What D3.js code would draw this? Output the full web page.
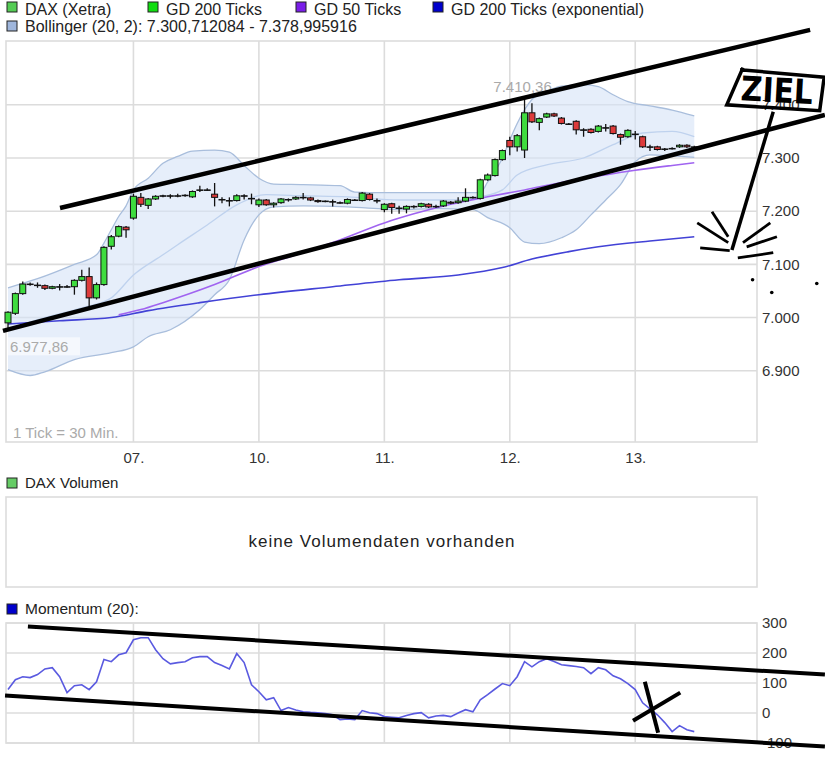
<!DOCTYPE html>
<html>
<head>
<meta charset="utf-8">
<script src="https://cdn.jsdelivr.net/npm/d3@7"></script>
<style>
  body { margin: 0; background: #fff; }
  svg { display: block; font-family: "Liberation Sans", Arial, sans-serif; }
</style>
</head>
<body>
<svg id="chart" width="825" height="762"></svg>
<script>
// ---- data (30 min ticks, 06.-13.) ----
const opens  = [6990,7008,7045,7063,7061,7060,7055,7058,7058,7058,7070,7077,7037,7062,7134,7153,7170,
                7187,7226,7211,7223,7229,7229,7229,7230,7227,7240,7240,7232,7222,7220,7220,7229,7224,
                7212,7221,7212,7216,7222,7223,7226,7225,7220,7218,7218,7216,7215,7221,7220,7232,7220,
                7203,7214,7206,7204,7209,7209,7213,7209,7210,7217,7216,7219,7226,7224,7259,7267,7297,
                7333,7321,7315,7385,7367,7377,7383,7375,7364,7369,7353,7354,7350,7357,7360,7344,7340,
                7345,7340,7321,7321,7317,7318,7321,7324,7321];
const highs  = [7012,7047,7068,7066,7066,7062,7060,7063,7061,7072,7090,7094,7066,7134,7155,7173,7172,
                7233,7234,7225,7230,7231,7232,7233,7232,7239,7248,7243,7253,7226,7226,7232,7232,7233,
                7224,7223,7217,7225,7224,7228,7234,7227,7222,7220,7222,7218,7224,7223,7236,7234,7224,
                7215,7216,7210,7211,7211,7216,7215,7212,7221,7219,7226,7243,7228,7261,7271,7299,7316,
                7340,7345,7410.36,7403,7376,7385,7385,7377,7366,7371,7356,7356,7362,7364,7362,7346,7354,
                7351,7342,7325,7323,7319,7320,7326,7326,7323];
const lows   = [6977.86,7005,7043,7060,7056,7052,7053,7051,7056,7043,7068,7021,7034,7060,7128,7151,7150,
                7184,7208,7204,7221,7226,7224,7226,7227,7225,7236,7238,7209,7215,7209,7218,7222,7213,
                7208,7210,7207,7214,7218,7221,7222,7219,7216,7217,7209,7214,7213,7219,7218,7220,7215,
                7198,7195,7195,7196,7205,7207,7206,7206,7208,7213,7214,7217,7224,7222,7257,7265,7295,
                7305,7312,7300,7366,7352,7375,7377,7363,7362,7344,7340,7346,7348,7350,7344,7325,7338,
                7335,7319,7313,7314,7313,7316,7319,7319,7320];
const closes = [7010,7045,7063,7062,7061,7055,7058,7058,7058,7070,7077,7037,7062,7132,7152,7171,7165,
                7228,7213,7223,7228,7229,7229,7229,7230,7237,7240,7240,7226,7222,7220,7229,7229,7224,
                7221,7212,7215,7223,7222,7226,7226,7221,7218,7219,7218,7216,7222,7221,7234,7222,7220,
                7213,7207,7206,7209,7209,7214,7208,7209,7219,7215,7219,7226,7226,7259,7268,7297,7314,
                7321,7342,7385,7368,7374,7383,7379,7365,7364,7353,7353,7348,7360,7357,7346,7339,7352,
                7345,7321,7321,7316,7317,7318,7324,7321,7321];

// indicator lines: [tick index, value]
const bollUpper = [[0,7056],[4,7073],[9,7100],[12,7118],[13,7140],[14,7165],[15,7190],[16,7210],[17,7240],
                   [19,7262],[21,7290],[23,7303],[25,7313],[28,7315],[30,7311],[32,7286],[34,7262],[36,7251],
                   [40,7250],[45,7248],[47,7236],[51,7235],[58,7235],[64,7235],[65,7255],[67,7300],[68,7334],
                   [69,7365],[71,7410],[73,7425],[75,7435],[78,7438],[80,7434],[82,7419],[84,7406],[87,7398],
                   [90,7390],[93,7379]];
const bollLower = [[0,6902],[3,6891],[5,6898],[9,6921],[14,6934],[17,6945],[19,6964],[22,6977],[26,7015],
                   [28,7043],[30,7071],[32,7146],[34,7193],[36,7208],[40,7210],[46,7208],[53,7203],[58,7205],
                   [63,7203],[65,7188],[68,7169],[70,7142],[72,7139],[75,7150],[77,7165],[79,7193],[81,7221],
                   [83,7250],[85,7293],[87,7306],[90,7304],[93,7301]];
const bollMid   = [[0,6979],[4,6996],[10,7018],[14,7037],[17,7080],[21,7118],[23,7137],[27,7174],[31,7212],
                   [35,7231],[40,7229],[46,7227],[53,7221],[60,7221],[64,7227],[67,7240],[69,7268],[73,7287],
                   [78,7300],[82,7325],[86,7347],[90,7350],[93,7340]];
const gd50      = [[15,7005],[18,7015],[21,7028],[28,7062],[34,7096],[40,7122],[44,7141],[51,7178],[55,7195],
                   [60,7213],[65,7227],[70,7240],[75,7254],[80,7266],[85,7277],[90,7286],[93,7291]];
const gd200exp  = [[0,6988],[7,6994],[14,7000],[19,7013],[26,7028],[34,7043],[44,7058],[53,7071],[61,7080],
                   [67,7094],[71,7110],[76,7124],[80,7133],[87,7144],[93,7152]];

const momentum = [78,111,121,118,128,147,151,121,68,91,94,78,104,178,171,194,201,
                  244,251,251,211,181,164,168,171,184,188,188,168,158,147,198,168,94,
                  71,44,51,8,18,10,4,2,1,-2,-6,-22,-20,-22,8,1,-2,
                  -12,-14,-16,-8,-2,1,-16,-10,-8,-12,0,11,4,44,61,80,98,
                  91,121,171,154,171,181,172,161,158,155,151,131,151,144,124,114,98,
                  78,34,14,-6,-32,-62,-42,-56,-62];

const dayTicks  = [17, 34, 51, 68, 85];
const dayLabels = ["07.", "10.", "11.", "12.", "13."];
const priceTicks = [6900, 7000, 7100, 7200, 7300, 7400];
const momTicks = [-100, 0, 100, 200, 300];

// hand drawn marks on the picture, in chart units
const trendUpper = [[7.05, 7206], [108.7, 7541]];
const trendLower = [[-0.68, 6975], [110.7, 7381]];
const zielBox = [[99.2, 7466], [110.6, 7452], [110.0, 7389], [97.4, 7400], [99.6, 7470]];
const zielStick = [[103.7, 7387], [98.1, 7127]];
const zielBurst = [
  [[93.4, 7178], [97.6, 7141]], [[95.4, 7199], [97.6, 7152]], [[93.8, 7131], [97.8, 7126]],
  [[99.6, 7141], [103.3, 7178]], [[100.1, 7133], [104.2, 7152]], [[98.9, 7112], [103.7, 7122]]
];
const zielDots = [[100.9, 7071], [103.5, 7047], [109.6, 7064]];
const momUpper = [[2.7, 288], [110.7, 128]];
const momLower = [[-0.4, 58], [110.7, -112]];
const momCross = [[[86.3, 104], [88.1, -66]], [[84.7, -26], [91.1, 68]]];

const legendTop = [
  { label: "DAX (Xetra)", color: "#55cc55", x: 7 },
  { label: "GD 200 Ticks", color: "#11dd11", x: 148 },
  { label: "GD 50 Ticks", color: "#7a1ee8", x: 296 },
  { label: "GD 200 Ticks (exponential)", color: "#0000cc", x: 433 }
];

// ---- chart ----
const svg = d3.select("#chart");
const de = d3.formatLocale({ decimal: ",", thousands: ".", grouping: [3], currency: ["", " €"], minus: "-" });
const fmt = de.format(",.0f");

const left = 6, right = 757;
const x = d3.scaleLinear().domain([-0.27, 101.5]).range([left, right]);
const y = d3.scaleLinear().domain([6766, 7520]).range([442, 41]);
const ym = d3.scaleLinear().domain([-100, 300]).range([743, 623]);

const gridColor = "#dcdcdc";

function panel(top, bottom) {
  svg.append("rect")
    .attr("x", left).attr("y", top)
    .attr("width", right - left).attr("height", bottom - top)
    .attr("fill", "#fff")
    .attr("stroke", gridColor).attr("stroke-width", 1.6);
}

function legendItem(xp, yp, color, label, size, textY) {
  svg.append("rect")
    .attr("x", xp).attr("y", yp - 5).attr("width", 10).attr("height", 10)
    .attr("fill", color).attr("stroke", "#222").attr("stroke-width", 1);
  svg.append("text")
    .attr("x", xp + 18).attr("y", textY || yp).attr("dy", "0.35em")
    .attr("font-size", size).attr("fill", "#222")
    .text(label);
}

// legends
legendTop.forEach(d => legendItem(d.x, 7, d.color, d.label, 16, 9.6));
legendItem(7, 26, "#9fb6dc", "Bollinger (20, 2): 7.300,712084 - 7.378,995916", 16, 26.5);
legendItem(7, 483, "#66cc66", "DAX Volumen", 15);
legendItem(7, 609, "#0000cc", "Momentum (20):", 15.5);

// main panel
panel(41, 442);
const grid = svg.append("g").attr("stroke", gridColor).attr("stroke-width", 1.6);
grid.selectAll("line.h").data(priceTicks).join("line")
  .attr("x1", left).attr("x2", right)
  .attr("y1", d => y(d)).attr("y2", d => y(d));
grid.selectAll("line.v").data(dayTicks).join("line")
  .attr("x1", d => x(d)).attr("x2", d => x(d))
  .attr("y1", 41).attr("y2", 442);

// bollinger band: upper edge forward, lower edge back
const curveLine = d3.line().x(d => x(d[0])).y(d => y(d[1])).curve(d3.curveMonotoneX);
svg.append("path")
  .attr("d", curveLine(bollUpper) + "L" + curveLine(bollLower.slice().reverse()).slice(1) + "Z")
  .attr("fill", "#d6e3f6").attr("fill-opacity", 0.6).attr("stroke", "none");
svg.append("path").attr("d", curveLine(bollUpper))
  .attr("fill", "none").attr("stroke", "#a9bedc").attr("stroke-width", 1.3);
svg.append("path").attr("d", curveLine(bollLower))
  .attr("fill", "none").attr("stroke", "#a9bedc").attr("stroke-width", 1.3);
svg.append("path").attr("d", curveLine(bollMid))
  .attr("fill", "none").attr("stroke", "#bfd2ee").attr("stroke-width", 1.3);

// moving averages
svg.append("path").attr("d", curveLine(gd200exp))
  .attr("fill", "none").attr("stroke", "#4242d6").attr("stroke-width", 1.6);
svg.append("path").attr("d", curveLine(gd50))
  .attr("fill", "none").attr("stroke", "#a064f0").attr("stroke-width", 1.6);

// candles
const candles = d3.range(opens.length).map(i => ({ i, o: opens[i], h: highs[i], l: lows[i], c: closes[i] }));
const cg = svg.append("g");
cg.selectAll("line").data(candles).join("line")
  .attr("x1", d => x(d.i)).attr("x2", d => x(d.i))
  .attr("y1", d => y(d.h)).attr("y2", d => y(d.l))
  .attr("stroke", "#111").attr("stroke-width", 1.3);
cg.selectAll("rect").data(candles).join("rect")
  .attr("x", d => x(d.i) - 3)
  .attr("width", 6)
  .attr("y", d => y(Math.max(d.o, d.c)))
  .attr("height", d => Math.max(0.5, Math.abs(y(d.o) - y(d.c))))
  .attr("fill", d => d.c > d.o ? "#3fdc3f" : d.c < d.o ? "#dd3b3b" : "#111")
  .attr("stroke", "#111").attr("stroke-width", 1);

// labels inside main panel
const lowIdx = d3.minIndex(lows), highIdx = d3.maxIndex(highs);
svg.append("rect")
  .attr("x", x(lowIdx) - 1).attr("y", y(lows[lowIdx]) + 8)
  .attr("width", 73).attr("height", 18)
  .attr("fill", "#fff").attr("fill-opacity", 0.6);
svg.append("text")
  .attr("x", x(lowIdx) + 2).attr("y", y(lows[lowIdx]) + 17).attr("dy", "0.35em")
  .attr("font-size", 15).attr("fill", "#aaa")
  .text(de.format(",.2f")(lows[lowIdx]));
svg.append("text")
  .attr("x", x(highIdx) - 2).attr("y", y(highs[highIdx]) - 13).attr("dy", "0.35em")
  .attr("text-anchor", "middle")
  .attr("font-size", 15).attr("fill", "#aaa")
  .text(de.format(",.2f")(highs[highIdx]));
svg.append("text")
  .attr("x", 13).attr("y", 433).attr("dy", "0.35em")
  .attr("font-size", 15).attr("fill", "#aaa")
  .text("1 Tick = 30 Min.");

// axes
const yAxis = svg.append("g")
  .attr("transform", `translate(${right},0)`)
  .call(d3.axisRight(y).tickValues(priceTicks).tickFormat(fmt).tickSize(0).tickPadding(5));
const xAxis = svg.append("g")
  .attr("transform", "translate(0,442)")
  .call(d3.axisBottom(x).tickValues(dayTicks).tickFormat((d, i) => dayLabels[i]).tickSize(0).tickPadding(10));

// volume panel
panel(497, 587);
svg.append("text")
  .attr("x", 382).attr("y", 541).attr("dy", "0.35em")
  .attr("text-anchor", "middle")
  .attr("font-size", 17).attr("letter-spacing", 1).attr("fill", "#222")
  .text("keine Volumendaten vorhanden");

// momentum panel
panel(623, 743);
const mgrid = svg.append("g").attr("stroke", gridColor).attr("stroke-width", 1.6);
mgrid.selectAll("line.h").data(momTicks).join("line")
  .attr("x1", left).attr("x2", right)
  .attr("y1", d => ym(d)).attr("y2", d => ym(d));
mgrid.selectAll("line.v").data(dayTicks).join("line")
  .attr("x1", d => x(d)).attr("x2", d => x(d))
  .attr("y1", 623).attr("y2", 743);
svg.append("path")
  .attr("d", d3.line().x((d, i) => x(i)).y(d => ym(d))(momentum))
  .attr("fill", "none").attr("stroke", "#5a5ae0").attr("stroke-width", 1.6);
const mAxis = svg.append("g")
  .attr("transform", `translate(${right},0)`)
  .call(d3.axisRight(ym).tickValues(momTicks).tickFormat(de.format("d")).tickSize(0).tickPadding(5));

[yAxis, xAxis, mAxis].forEach(a => {
  a.select(".domain").remove();
  a.selectAll("text").attr("font-size", 15).attr("fill", "#333")
    .attr("font-family", "Liberation Sans, Arial, sans-serif");
});

// ---- hand drawn annotations ----
const pen = d3.line().x(d => x(d[0])).y(d => y(d[1]));
const penM = d3.line().x(d => x(d[0])).y(d => ym(d[1]));
const ink = svg.append("g").attr("fill", "none").attr("stroke", "#000").attr("stroke-linecap", "butt");

ink.append("path").attr("d", pen(trendUpper)).attr("stroke-width", 4.5);
ink.append("path").attr("d", pen(trendLower)).attr("stroke-width", 4.5);
ink.append("path").attr("d", pen(zielBox)).attr("stroke-width", 3.5).attr("stroke-linejoin", "miter");
ink.append("path").attr("d", pen(zielStick)).attr("stroke-width", 3.5);
zielBurst.forEach(s => ink.append("path").attr("d", pen(s)).attr("stroke-width", 2.8));
svg.selectAll("circle.dot").data(zielDots).join("circle")
  .attr("cx", d => x(d[0])).attr("cy", d => y(d[1])).attr("r", 1.8).attr("fill", "#000");
svg.append("text")
  .attr("transform", `translate(${x(104.2)},${y(7428)}) rotate(3)`)
  .attr("dy", "0.36em")
  .attr("text-anchor", "middle")
  .attr("font-family", "DejaVu Sans, sans-serif")
  .attr("font-weight", "bold")
  .attr("font-size", 34)
  .attr("textLength", 72).attr("lengthAdjust", "spacingAndGlyphs")
  .attr("fill", "#000")
  .text("ZIEL");

ink.append("path").attr("d", penM(momUpper)).attr("stroke-width", 4);
ink.append("path").attr("d", penM(momLower)).attr("stroke-width", 4);
momCross.forEach(s => ink.append("path").attr("d", penM(s)).attr("stroke-width", 4));
</script>
</body>
</html>
